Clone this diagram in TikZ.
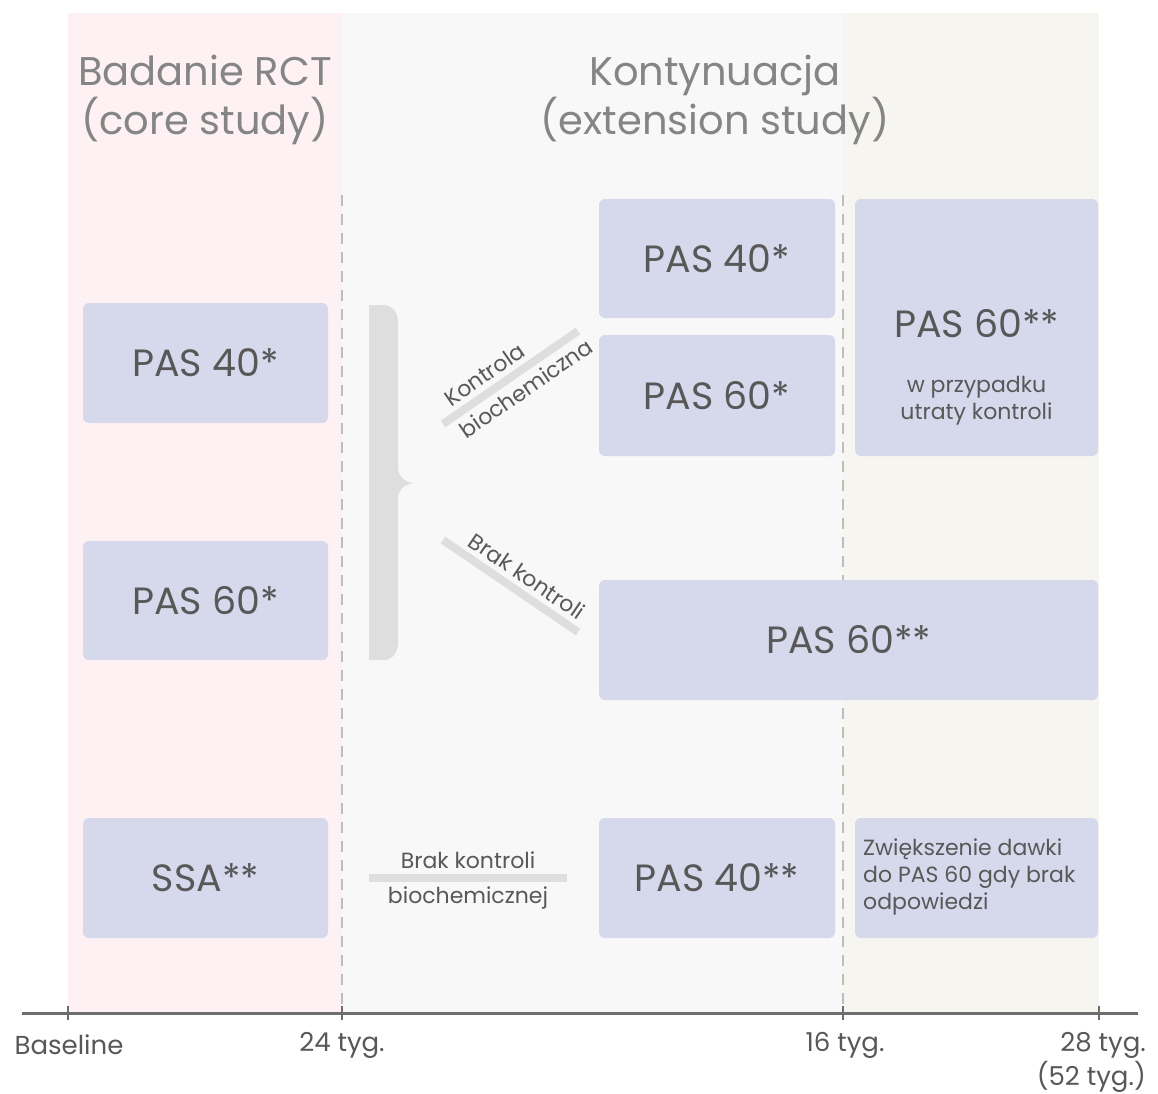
\documentclass[tikz,border=0pt]{standalone}
\usepackage{fontspec}
\setmainfont{Poppins}
\usetikzlibrary{positioning}

\definecolor{boxfill}{HTML}{D6D8EC}
\definecolor{txtgray}{HTML}{585858}
\definecolor{titlegray}{HTML}{858585}
\definecolor{coreband}{HTML}{FDF1F4}
\definecolor{extband}{HTML}{F8F8F8}
\definecolor{lateband}{HTML}{F7F5EF}
\definecolor{bargray}{HTML}{DEDEDE}
\definecolor{axisgray}{HTML}{6E6E6E}
\definecolor{dashgray}{HTML}{BDBDBD}

\tikzset{
  dose/.style={fill=boxfill, rounded corners=6pt, text=txtgray, inner sep=0pt,
    font=\fontsize{38}{42}\selectfont},
  note/.style={text=txtgray, font=\fontsize{22}{27}\selectfont, inner sep=1pt},
  slant/.style={text=txtgray, font=\fontsize{22}{26}\selectfont, inner sep=5pt},
  bar/.style={draw=bargray, line width=8pt},
  title/.style={text=titlegray, font=\fontsize{40}{49}\selectfont, align=center},
  tick/.style={text=txtgray, font=\fontsize{26}{32}\selectfont, inner sep=0pt}
}

\begin{document}
\begin{tikzpicture}[x=1pt, y=-1pt]
  \useasboundingbox (0,0) rectangle (1158,1093);
  \fill[white] (0,0) rectangle (1158,1093);

  % bands
  \fill[coreband] (68,13) rectangle (342,1013);
  \fill[extband] (342,13) rectangle (843,1013);
  \fill[lateband] (843,13) rectangle (1099,1013);

  \draw[dashgray, line width=1.5pt, dash pattern=on 11pt off 8pt] (342,195) -- (342,1005);
  \draw[dashgray, line width=1.5pt, dash pattern=on 11pt off 8pt] (843,195) -- (843,1005);

  % titles
  \node[title] (core) at (205,100) {Badanie RCT\\(core study)};
  \node[title] (ext) at (715,100) {Kontynuacja\\(extension study)};

  % core study
  \node[dose, minimum width=245, minimum height=120] (core40) at (205.5,363) {PAS 40*};
  \node[dose, minimum width=245, minimum height=119] (core60) at (205.5,600.5) {PAS 60*};
  \node[dose, minimum width=245, minimum height=120] (ssa) at (205.5,878) {SSA**};

  % extension study
  \node[dose, minimum width=236, minimum height=119] (ext40) at (717,258.5) {PAS 40*};
  \node[dose, minimum width=236, minimum height=121] (ext60) at (717,395.5) {PAS 60*};
  \node[dose, minimum width=243, minimum height=257] (late60) at (976.5,327.5) {};
  \node[dose, fill=none] (late60t) at (976.5,324) {PAS 60**};
  \node[note, align=center] (late60n) at (976.5,401) {w przypadku\\utraty kontroli};
  \node[dose, minimum width=499, minimum height=120] (wide60) at (848.5,640) {PAS 60**};
  \node[dose, minimum width=236, minimum height=120] (ext40b) at (717,878) {PAS 40**};
  \node[dose, minimum width=243, minimum height=120] (raise) at (976.5,878) {};
  \node[note, align=left, anchor=west] (raiset) at (862,877) {Zwiększenie dawki\\do PAS 60 gdy brak\\odpowiedzi};

  % brace
  \fill[bargray] (369,305) -- (384,305) to[out=0, in=90] (398,322) -- (398,468)
    to[out=-90, in=180] (415,483) to[out=180, in=90] (398,498) -- (398,643)
    to[out=-90, in=0] (384,660) -- (369,660) -- cycle;

  % branches
  \coordinate (ka) at (443,424);
  \coordinate (kb) at (578,331);
  \draw[bar] (ka) -- (kb)
    node[slant, pos=0.38, above, sloped] {Kontrola}
    node[slant, pos=0.54, below, sloped] {biochemiczna};
  \coordinate (ba) at (443,540);
  \coordinate (bb) at (578,632);
  \draw[bar] (ba) -- (bb)
    node[slant, pos=0.55, above, sloped] {Brak kontroli};
  \coordinate (sa) at (369,878);
  \coordinate (sb) at (567,878);
  \draw[bar] (sa) -- (sb)
    node[note, midway, above=4pt] {Brak kontroli}
    node[note, midway, below=4pt] {biochemicznej};

  % time axis
  \draw[axisgray, line width=3pt] (22,1013) -- (1138,1013);
  \foreach \t in {68,342,843,1099}
    \draw[axisgray, line width=2pt] (\t,1006) -- (\t,1020);
  \node[tick] (t0) at (69,1045) {Baseline};
  \node[tick] (t24) at (342,1045) {24 tyg.};
  \node[tick] (t16) at (845,1045) {16 tyg.};
  \node[tick, anchor=east] (t28) at (1146,1045) {28 tyg.};
  \node[tick, anchor=east] (t52) at (1146,1077) {(52 tyg.)};
\end{tikzpicture}
\end{document}
